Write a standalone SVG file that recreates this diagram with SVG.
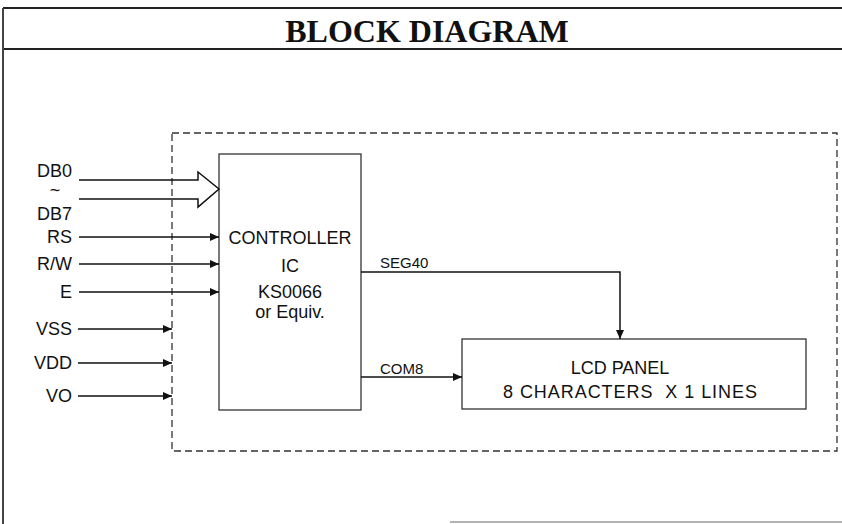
<svg xmlns="http://www.w3.org/2000/svg" width="842" height="524" viewBox="0 0 842 524">
<style>
.t{font-family:"Liberation Sans",Arial,sans-serif;font-size:18px;fill:#111}
.s{font-family:"Liberation Sans",Arial,sans-serif;font-size:15px;fill:#111}
.ln{stroke:#111;stroke-width:1.5;fill:none}
.box{stroke:#222;stroke-width:1.2;fill:none}
</style>
<defs>
<marker id="ah" markerWidth="10" markerHeight="8" refX="9" refY="4" orient="auto" markerUnits="userSpaceOnUse">
<path d="M0,0 L9,4 L0,8 Z" fill="#111"/>
</marker>
</defs>
<rect width="842" height="524" fill="#fff"/>
<g id="frame">
<line x1="3" y1="8" x2="842" y2="8" stroke="#222" stroke-width="2"/>
<line x1="3" y1="49" x2="842" y2="49" stroke="#222" stroke-width="2"/>
<line x1="3" y1="8" x2="3" y2="524" stroke="#444" stroke-width="2"/>
<line x1="450" y1="522" x2="842" y2="522" stroke="#999" stroke-width="1.5"/>
<text x="427" y="42" text-anchor="middle" font-family="'Liberation Serif','Times New Roman',serif" font-weight="bold" font-size="32" fill="#111">BLOCK DIAGRAM</text>
</g>
<g id="module">
<rect x="172" y="133" width="665" height="318" fill="none" stroke="#333" stroke-width="1.3" stroke-dasharray="7,4"/>
</g>
<g id="controller">
<rect class="box" x="219" y="154" width="142" height="256"/>
<text class="t" x="290" y="244" text-anchor="middle">CONTROLLER</text>
<text class="t" x="290" y="272" text-anchor="middle">IC</text>
<text class="t" x="290" y="298" text-anchor="middle">KS0066</text>
<text class="t" x="290" y="318" text-anchor="middle">or Equiv.</text>
</g>
<g id="lcd">
<rect class="box" x="462" y="339" width="344" height="70"/>
<text class="t" x="620" y="374" text-anchor="middle">LCD PANEL</text>
<text class="t" x="503" y="398" textLength="254" lengthAdjust="spacing" xml:space="preserve">8 CHARACTERS  X 1 LINES</text>
</g>
<g id="labels">
<text class="t" x="72" y="177" text-anchor="end">DB0</text>
<text class="t" x="55" y="196" text-anchor="middle">~</text>
<text class="t" x="72" y="220" text-anchor="end">DB7</text>
<text class="t" x="72" y="243" text-anchor="end">RS</text>
<text class="t" x="72" y="270" text-anchor="end">R/W</text>
<text class="t" x="72" y="298" text-anchor="end">E</text>
<text class="t" x="72" y="335" text-anchor="end">VSS</text>
<text class="t" x="72" y="369" text-anchor="end">VDD</text>
<text class="t" x="72" y="402" text-anchor="end">VO</text>
</g>
<g id="connectors">
<path class="ln" d="M79,180 H198 V172 L219,189 L198,207 V199 H79"/>
<line class="ln" x1="79" y1="237" x2="219" y2="237" marker-end="url(#ah)"/>
<line class="ln" x1="79" y1="264" x2="219" y2="264" marker-end="url(#ah)"/>
<line class="ln" x1="79" y1="292" x2="219" y2="292" marker-end="url(#ah)"/>
<line class="ln" x1="78" y1="329" x2="172" y2="329" marker-end="url(#ah)"/>
<line class="ln" x1="78" y1="363" x2="172" y2="363" marker-end="url(#ah)"/>
<line class="ln" x1="78" y1="396" x2="172" y2="396" marker-end="url(#ah)"/>
<path class="ln" d="M361,272 H620 V339" marker-end="url(#ah)"/>
<line class="ln" x1="361" y1="377" x2="462" y2="377" marker-end="url(#ah)"/>
<text class="s" x="380" y="268">SEG40</text>
<text class="s" x="380" y="374">COM8</text>
</g>
</svg>
